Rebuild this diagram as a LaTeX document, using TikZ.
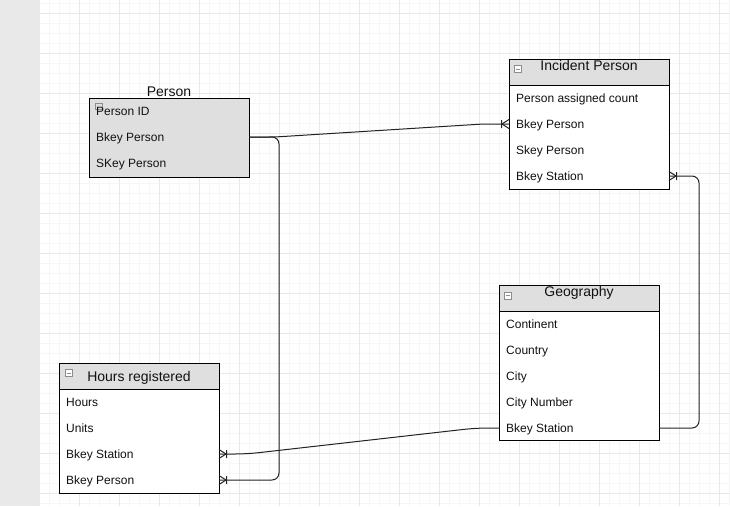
\documentclass[tikz,border=0pt]{standalone}
\usepackage{fontspec}
\setmainfont{Liberation Sans}
\usetikzlibrary{calc}
\definecolor{stripcol}{HTML}{E9E9E9}
\definecolor{gmajor}{HTML}{E8E8E8}
\definecolor{gminor}{HTML}{F6F6F6}
\definecolor{hdr}{HTML}{DFDFDF}
\definecolor{iconcol}{HTML}{8C8C8C}
\definecolor{txt}{HTML}{111111}
\definecolor{conncol}{HTML}{222222}
\newcommand\crowfoot[2]{%
  \draw[conn] ($(#1)+(#2*7,0)$) -- ($(#1)+(0,-4.5)$)
              ($(#1)+(#2*7,0)$) -- ($(#1)+(0,4.5)$)
              ($(#1)+(#2*7.5,-4)$) -- ($(#1)+(#2*7.5,4)$);}
\begin{document}
\begin{tikzpicture}[x=1pt,y=-1pt,
  box/.style={draw=black, line width=1pt, inner sep=0pt, outer sep=0pt, anchor=north west, minimum width=160pt},
  row/.style={anchor=west, inner sep=0pt, text height=9pt, text depth=0pt, font=\fontsize{12}{14}\selectfont, text=txt},
  title/.style={anchor=base, inner sep=0pt, font=\fontsize{14}{16}\selectfont, text=txt},
  conn/.style={draw=conncol, line width=1pt},
  icon/.style={draw=iconcol, fill=white, line width=0.8pt, minimum width=7pt, minimum height=7pt, inner sep=0pt, anchor=north west},
  minus/.style={icon, path picture={\draw[iconcol, line width=0.8pt] ([xshift=-2pt]path picture bounding box.center) -- ([xshift=2pt]path picture bounding box.center);}}
]
\useasboundingbox (0,0) rectangle (730,506);
% background grid
\fill[white] (0,0) rectangle (730,506);
\foreach \x in {49,59,...,729} \draw[gminor, line width=1pt] (\x,0) -- (\x,506);
\foreach \y in {3,13,...,503} \draw[gminor, line width=1pt] (39,\y) -- (730,\y);
\foreach \x in {39,79,...,719} \draw[gmajor, line width=1pt] (\x,0) -- (\x,506);
\foreach \y in {13,53,...,493} \draw[gmajor, line width=1pt] (39,\y) -- (730,\y);
\fill[stripcol] (0,0) rectangle (38.5,506);

% Person
\node[box, fill=hdr, minimum height=79pt] (person) at (89,98) {};
\node[title] (person-t) at (169,96) {Person};
\node[icon, minimum height=6pt, fill=hdr] (person-i) at (95,103) {};
\node[row] (pr1) at (96,111) {Person ID};
\node[row] (pr2) at (96,137) {Bkey Person};
\node[row] (pr3) at (96,163) {SKey Person};

% Incident Person
\node[box, fill=hdr, minimum height=26pt] (ip-h) at (509,59) {};
\node[box, fill=white, minimum height=104pt] (ip) at (509,85) {};
\node[minus] (ip-i) at (514,65) {};
\node[title] (ip-t) at (589,70) {Incident Person};
\node[row] (ir1) at (516,98) {Person assigned count};
\node[row] (ir2) at (516,124) {Bkey Person};
\node[row] (ir3) at (516,150) {Skey Person};
\node[row] (ir4) at (516,176) {Bkey Station};

% Geography
\node[box, fill=hdr, minimum height=26pt] (geo-h) at (499,285) {};
\node[box, fill=white, minimum height=129pt] (geo) at (499,311) {};
\node[minus] (geo-i) at (504,291.5) {};
\node[title] (geo-t) at (579,296) {Geography};
\node[row] (g1) at (506,324) {Continent};
\node[row] (g2) at (506,350) {Country};
\node[row] (g3) at (506,376) {City};
\node[row] (g4) at (506,402) {City Number};
\node[row] (g5) at (506,428) {Bkey Station};

% Hours registered
\node[box, fill=hdr, minimum height=26pt] (hrs-h) at (59,363) {};
\node[box, fill=white, minimum height=104pt] (hrs) at (59,389) {};
\node[minus] (hrs-i) at (65,369) {};
\node[title] (hrs-t) at (139,381.5) {Hours registered};
\node[row] (hr1) at (66,402) {Hours};
\node[row] (hr2) at (66,428) {Units};
\node[row] (hr3) at (66,454) {Bkey Station};
\node[row] (hr4) at (66,480) {Bkey Person};

% attachment points
\coordinate (pBk) at (person.east |- pr2);
\coordinate (ipBk) at (ip.west |- ir2);
\coordinate (ipSt) at (ip.east |- ir4);
\coordinate (gStW) at (geo.west |- g5);
\coordinate (gStE) at (geo.east |- g5);
\coordinate (hSt) at (hrs.east |- hr3);
\coordinate (hBk) at (hrs.east |- hr4);

% connectors
\draw[conn, rounded corners=6pt] (pBk) -- ++(26,0) -- ($(ipBk)+(-26,0)$) -- (ipBk);
\draw[conn, rounded corners=7pt] (pBk) -- ++(30,0) |- (hBk);
\draw[conn, rounded corners=12pt] (gStW) -- ++(-23,0) -- ($(hSt)+(28,0)$) -- (hSt);
\draw[conn, rounded corners=7pt] (gStE) -- ++(40,0) |- (ipSt);

% crow's feet
\crowfoot{ipBk}{-1}
\crowfoot{ipSt}{1}
\crowfoot{hSt}{1}
\crowfoot{hBk}{1}
\end{tikzpicture}
\end{document}
